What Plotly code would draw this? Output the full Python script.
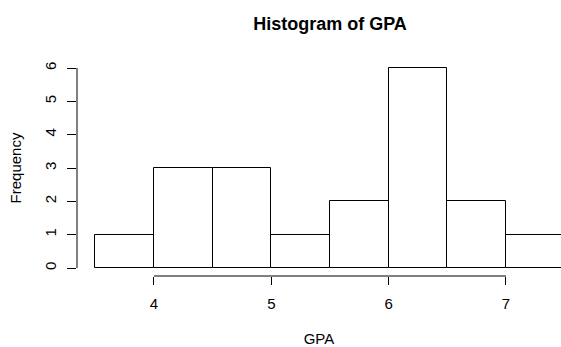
import plotly.graph_objects as go

# Histogram bins (width 0.5) and their counts
bin_left = [3.5, 4.0, 4.5, 5.0, 5.5, 6.0, 6.5, 7.0]
counts = [1, 3, 3, 1, 2, 6, 2, 1]
bin_width = 0.5
x_ticks = [4, 5, 6, 7]
y_ticks = [0, 1, 2, 3, 4, 5, 6]

centers = [b + bin_width / 2 for b in bin_left]

FONT = "Liberation Sans, Arial, sans-serif"

fig = go.Figure(
    go.Bar(
        x=centers,
        y=counts,
        width=bin_width,
        marker=dict(color="white", line=dict(color="black", width=1)),
        hoverinfo="x+y",
    )
)

fig.update_layout(
    width=561,
    height=347,
    margin=dict(l=77, r=0, t=60, b=71),
    paper_bgcolor="white",
    plot_bgcolor="white",
    showlegend=False,
    font=dict(family=FONT, size=15, color="black"),
    title=dict(
        text="<b>Histogram of GPA</b>",
        font=dict(family=FONT, size=18, color="black"),
        x=330 / 561,
        xanchor="center",
        y=1 - 24 / 347,
        yanchor="middle",
    ),
    bargap=0,
)

fig.update_xaxes(
    range=[3.344, 7.469],
    tickvals=x_ticks,
    ticks="outside",
    ticklen=8,
    tickwidth=1,
    tickcolor="black",
    showline=False,
    showgrid=False,
    zeroline=False,
    tickfont=dict(size=15),
    ticklabelstandoff=6,
    title=dict(text="GPA", font=dict(size=15), standoff=22),
)

fig.update_yaxes(
    range=[-0.24, 6.24],
    tickvals=y_ticks,
    ticks="outside",
    ticklen=9,
    tickwidth=1,
    tickcolor="black",
    tickangle=-90,
    showline=False,
    showgrid=False,
    zeroline=False,
    tickfont=dict(size=15),
    ticklabelstandoff=5,
    title=dict(text="Frequency", font=dict(size=15), standoff=16),
)

# Axis lines span only the range between the outer ticks
fig.add_shape(type="line", xref="x", yref="paper",
              x0=x_ticks[0], x1=x_ticks[-1], y0=0, y1=0,
              line=dict(color="black", width=1))
fig.add_shape(type="line", xref="paper", yref="y",
              x0=0, x1=0, y0=y_ticks[0], y1=y_ticks[-1],
              line=dict(color="black", width=1))

fig.write_html("out.html")
